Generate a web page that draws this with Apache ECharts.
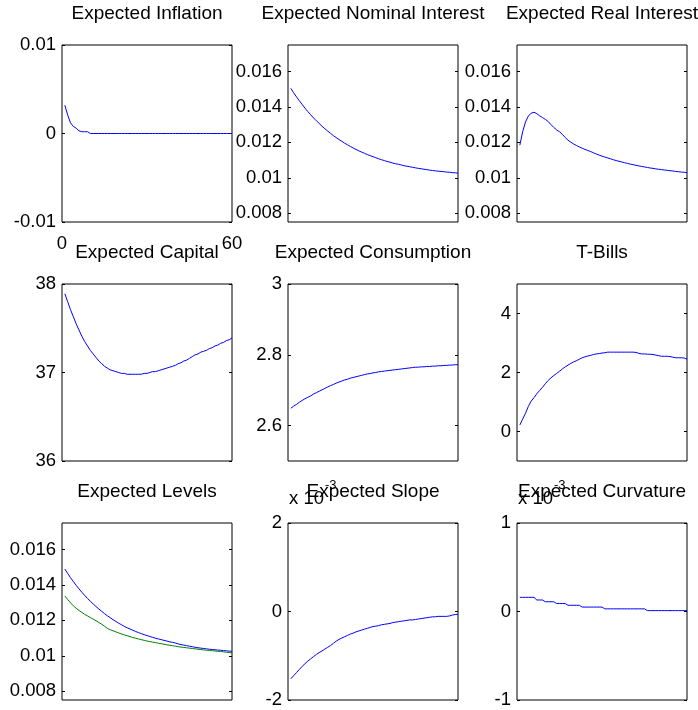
<!DOCTYPE html>
<html><head><meta charset="utf-8">
<script src="https://cdn.jsdelivr.net/npm/echarts@6/dist/echarts.min.js"></script>
<style>html,body{margin:0;padding:0;background:#fff}#c{width:698px;height:710px}</style>
</head><body><div id="c"></div>
<script>
const periods = [1,2,3,4,5,6,7,8,9,10,11,12,13,14,15,16,17,18,19,20,21,22,23,24,25,26,27,28,29,30,
  31,32,33,34,35,36,37,38,39,40,41,42,43,44,45,46,47,48,49,50,51,52,53,54,55,56,57,58,59,60];

const titles = ['Expected Inflation','Expected Nominal Interest','Expected Real Interest',
  'Expected Capital','Expected Consumption','T-Bills',
  'Expected Levels','Expected Slope','Expected Curvature'];

const inflation = [0.0032,0.0021,0.0012,0.0008,0.0006,0.0003,0.0002,0.0002,0.0002,0,
  0,0,0,0,0,0,0,0,0,0, 0,0,0,0,0,0,0,0,0,0, 0,0,0,0,0,0,0,0,0,0,
  0,0,0,0,0,0,0,0,0,0, 0,0,0,0,0,0,0,0,0,0];

const nominal = [0.01505,0.01480,0.01457,0.01435,0.01414,0.01393,0.01374,0.01356,0.01338,0.01322,
  0.01307,0.01291,0.01277,0.01264,0.01251,0.01238,0.01227,0.01216,0.01206,0.01195,
  0.01186,0.01177,0.01168,0.01160,0.01152,0.01145,0.01138,0.01131,0.01125,0.01119,
  0.01113,0.01107,0.01102,0.01097,0.01092,0.01088,0.01083,0.01079,0.01076,0.01072,
  0.01068,0.01065,0.01062,0.01059,0.01056,0.01053,0.01051,0.01048,0.01046,0.01043,
  0.01041,0.01039,0.01037,0.01036,0.01034,0.01032,0.01031,0.01029,0.01028,0.01026];

const real = [0.01184,0.01260,0.01315,0.01348,0.01365,0.01370,0.01362,0.01350,0.01340,0.01330,
  0.01318,0.01300,0.01284,0.01270,0.01260,0.01245,0.01228,0.01212,0.01201,0.01191,
  0.01182,0.01174,0.01167,0.01160,0.01154,0.01148,0.01141,0.01134,0.01128,0.01122,
  0.01117,0.01112,0.01107,0.01102,0.01097,0.01093,0.01089,0.01085,0.01081,0.01077,
  0.01074,0.01070,0.01067,0.01064,0.01061,0.01058,0.01055,0.01053,0.01050,0.01048,
  0.01046,0.01044,0.01042,0.01040,0.01038,0.01036,0.01034,0.01032,0.01031,0.01029];

const capital = [37.89,37.80,37.71,37.63,37.55,37.48,37.41,37.35,37.30,37.25,
  37.21,37.17,37.13,37.10,37.07,37.05,37.03,37.02,37.01,37.00,
  36.99,36.99,36.98,36.98,36.98,36.98,36.98,36.98,36.99,36.99,
  37.00,37.01,37.01,37.02,37.03,37.04,37.05,37.06,37.07,37.08,
  37.10,37.11,37.13,37.14,37.16,37.18,37.20,37.21,37.23,37.24,
  37.25,37.27,37.28,37.30,37.31,37.33,37.34,37.36,37.37,37.39];

const consumption = [2.649,2.655,2.660,2.666,2.671,2.676,2.680,2.684,2.689,2.693,
  2.697,2.701,2.705,2.709,2.713,2.716,2.720,2.723,2.726,2.729,
  2.731,2.734,2.736,2.738,2.740,2.742,2.744,2.746,2.747,2.749,
  2.750,2.752,2.753,2.754,2.755,2.756,2.757,2.758,2.759,2.760,
  2.761,2.762,2.763,2.764,2.765,2.765,2.766,2.766,2.767,2.767,
  2.768,2.768,2.769,2.769,2.770,2.770,2.771,2.771,2.772,2.772];

const tbills = [0.22,0.42,0.62,0.85,1.03,1.15,1.28,1.39,1.50,1.62,
  1.73,1.82,1.90,1.97,2.04,2.12,2.19,2.25,2.31,2.36,
  2.40,2.45,2.50,2.53,2.56,2.58,2.61,2.63,2.64,2.66,
  2.67,2.69,2.69,2.69,2.69,2.69,2.69,2.69,2.69,2.69,
  2.69,2.68,2.65,2.63,2.63,2.62,2.62,2.61,2.59,2.57,
  2.55,2.55,2.55,2.54,2.52,2.50,2.50,2.50,2.49,2.45];

const levelsBlue = [0.01490,0.01465,0.01441,0.01419,0.01398,0.01378,0.01359,0.01341,0.01324,0.01308,
  0.01293,0.01278,0.01264,0.01251,0.01238,0.01226,0.01215,0.01204,0.01194,0.01184,
  0.01175,0.01166,0.01158,0.01151,0.01144,0.01137,0.01131,0.01125,0.01119,0.01114,
  0.01109,0.01104,0.01099,0.01095,0.01091,0.01087,0.01083,0.01079,0.01076,0.01072,
  0.01067,0.01063,0.01060,0.01057,0.01054,0.01051,0.01048,0.01045,0.01043,0.01041,
  0.01039,0.01037,0.01035,0.01034,0.01032,0.01031,0.01029,0.01028,0.01026,0.01025];

const levelsGreen = [0.01338,0.01318,0.01299,0.01282,0.01268,0.01256,0.01245,0.01234,0.01225,0.01216,
  0.01207,0.01198,0.01188,0.01178,0.01167,0.01155,0.01147,0.01141,0.01135,0.01129,
  0.01123,0.01118,0.01113,0.01108,0.01103,0.01099,0.01095,0.01091,0.01087,0.01083,
  0.01080,0.01077,0.01074,0.01071,0.01068,0.01065,0.01062,0.01059,0.01057,0.01054,
  0.01051,0.01049,0.01047,0.01045,0.01043,0.01041,0.01039,0.01037,0.01035,0.01033,
  0.01031,0.01030,0.01028,0.01027,0.01025,0.01024,0.01022,0.01020,0.01018,0.01016];

// in units of 1e-3
const slope = [-1.52,-1.45,-1.38,-1.31,-1.24,-1.18,-1.12,-1.07,-1.02,-0.97,
  -0.93,-0.89,-0.85,-0.81,-0.77,-0.72,-0.67,-0.63,-0.60,-0.57,
  -0.54,-0.51,-0.49,-0.46,-0.44,-0.42,-0.40,-0.38,-0.36,-0.34,
  -0.33,-0.32,-0.30,-0.29,-0.28,-0.27,-0.25,-0.24,-0.23,-0.22,
  -0.21,-0.20,-0.19,-0.19,-0.18,-0.17,-0.16,-0.15,-0.14,-0.13,
  -0.12,-0.12,-0.11,-0.11,-0.11,-0.11,-0.10,-0.08,-0.07,-0.06];

// in units of 1e-3
const curvature = [0.16,0.16,0.16,0.16,0.16,0.16,0.13,0.13,0.13,0.11,
  0.11,0.11,0.11,0.09,0.09,0.09,0.09,0.07,0.07,0.07,
  0.07,0.07,0.05,0.05,0.05,0.05,0.05,0.05,0.05,0.05,
  0.03,0.03,0.03,0.03,0.03,0.03,0.03,0.03,0.03,0.03,
  0.03,0.03,0.03,0.03,0.03,0.01,0.01,0.01,0.01,0.01,
  0.01,0.01,0.01,0.01,0.01,0.01,0.01,0.01,0.01,0.01];

const ticksInflation = [-0.01, 0, 0.01];
const ticksRate = [0.008, 0.01, 0.012, 0.014, 0.016];
const ticksCapital = [36, 37, 38];
const ticksConsumption = [2.6, 2.8, 3];
const ticksTbills = [0, 2, 4];
const ticksSlope = [-2, 0, 2];
const ticksCurvature = [-1, 0, 1];
const xTickLabels = [0, 60];
const scaleLabel = 'x 10';
const scaleExp = '-3';

const BLUE = '#0000ff', GREEN = '#008000';
const FONT = "'Liberation Sans', Arial, Helvetica, sans-serif";
const FS = 18.5, FT = 19;

const panels = [
  {lines:[[inflation,BLUE]], min:-0.01, max:0.01, ticks:ticksInflation},
  {lines:[[nominal,BLUE]], min:0.0075, max:0.0175, ticks:ticksRate},
  {lines:[[real,BLUE]], min:0.0075, max:0.0175, ticks:ticksRate},
  {lines:[[capital,BLUE]], min:36, max:38, ticks:ticksCapital},
  {lines:[[consumption,BLUE]], min:2.5, max:3, ticks:ticksConsumption},
  {lines:[[tbills,BLUE]], min:-1, max:5, ticks:ticksTbills},
  {lines:[[levelsBlue,BLUE],[levelsGreen,GREEN]], min:0.0075, max:0.0175, ticks:ticksRate},
  {lines:[[slope,BLUE]], min:-2, max:2, ticks:ticksSlope, scaled:true},
  {lines:[[curvature,BLUE]], min:-1, max:1, ticks:ticksCurvature, scaled:true}
];

const colLeft = [62, 288, 517], rowTop = [45, 284, 523], W = 170, H = 177;
const fmt = v => String(parseFloat(Number(v).toFixed(6)));

const grid = [], xAxis = [], yAxis = [], series = [], graphic = [];
panels.forEach((p, i) => {
  const L = colLeft[i % 3], T = rowTop[Math.floor(i / 3)];
  grid.push({left:L, top:T, width:W, height:H, show:true, borderColor:'#000', borderWidth:1, backgroundColor:'#fff', containLabel:false});
  xAxis.push({type:'value', gridIndex:i, min:0, max:60, interval:60,
    axisLine:{show:false}, splitLine:{show:false}, axisTick:{show:false},
    axisLabel:{show:i === 0, margin:12, color:'#000', fontSize:FS, fontFamily:FONT, customValues:xTickLabels, formatter:fmt}});
  yAxis.push({type:'value', gridIndex:i, min:p.min, max:p.max, position:'left',
    axisLine:{show:false}, splitLine:{show:false},
    axisTick:{show:true, inside:true, length:3, lineStyle:{color:'#000'}, customValues:p.ticks},
    axisLabel:{show:true, margin:6, color:'#000', fontSize:FS, fontFamily:FONT, customValues:p.ticks, formatter:fmt}});
  yAxis.push({type:'value', gridIndex:i, min:p.min, max:p.max, position:'right',
    axisLine:{show:false}, splitLine:{show:false},
    axisTick:{show:true, inside:true, length:3, lineStyle:{color:'#000'}, customValues:p.ticks},
    axisLabel:{show:false}});
  p.lines.forEach(([vals, color]) => {
    series.push({type:'line', xAxisIndex:i, yAxisIndex:2*i, symbol:'none', showSymbol:false,
      lineStyle:{color, width:1}, itemStyle:{color}, clip:true, silent:true,
      data: periods.map((x, k) => [x, vals[k]])});
  });
  graphic.push({type:'text', x:L + W/2, y:T - 31, silent:true,
    style:{text:titles[i], font:`${FT}px ${FONT}`, fill:'#000', align:'center', verticalAlign:'middle'}});
  if (p.scaled) {
    graphic.push({type:'text', x:L + 1, y:T - 24, silent:true,
      style:{text:scaleLabel, font:`${FS}px ${FONT}`, fill:'#000', align:'left', verticalAlign:'middle'}});
    graphic.push({type:'text', x:L + 37, y:T - 38, silent:true,
      style:{text:scaleExp, font:`13px ${FONT}`, fill:'#000', align:'left', verticalAlign:'middle'}});
  }
});

const chart = echarts.init(document.getElementById('c'), null, {renderer:'canvas'});
chart.setOption({animation:false, backgroundColor:'#fff', grid, xAxis, yAxis, series, graphic});
</script></body></html>
